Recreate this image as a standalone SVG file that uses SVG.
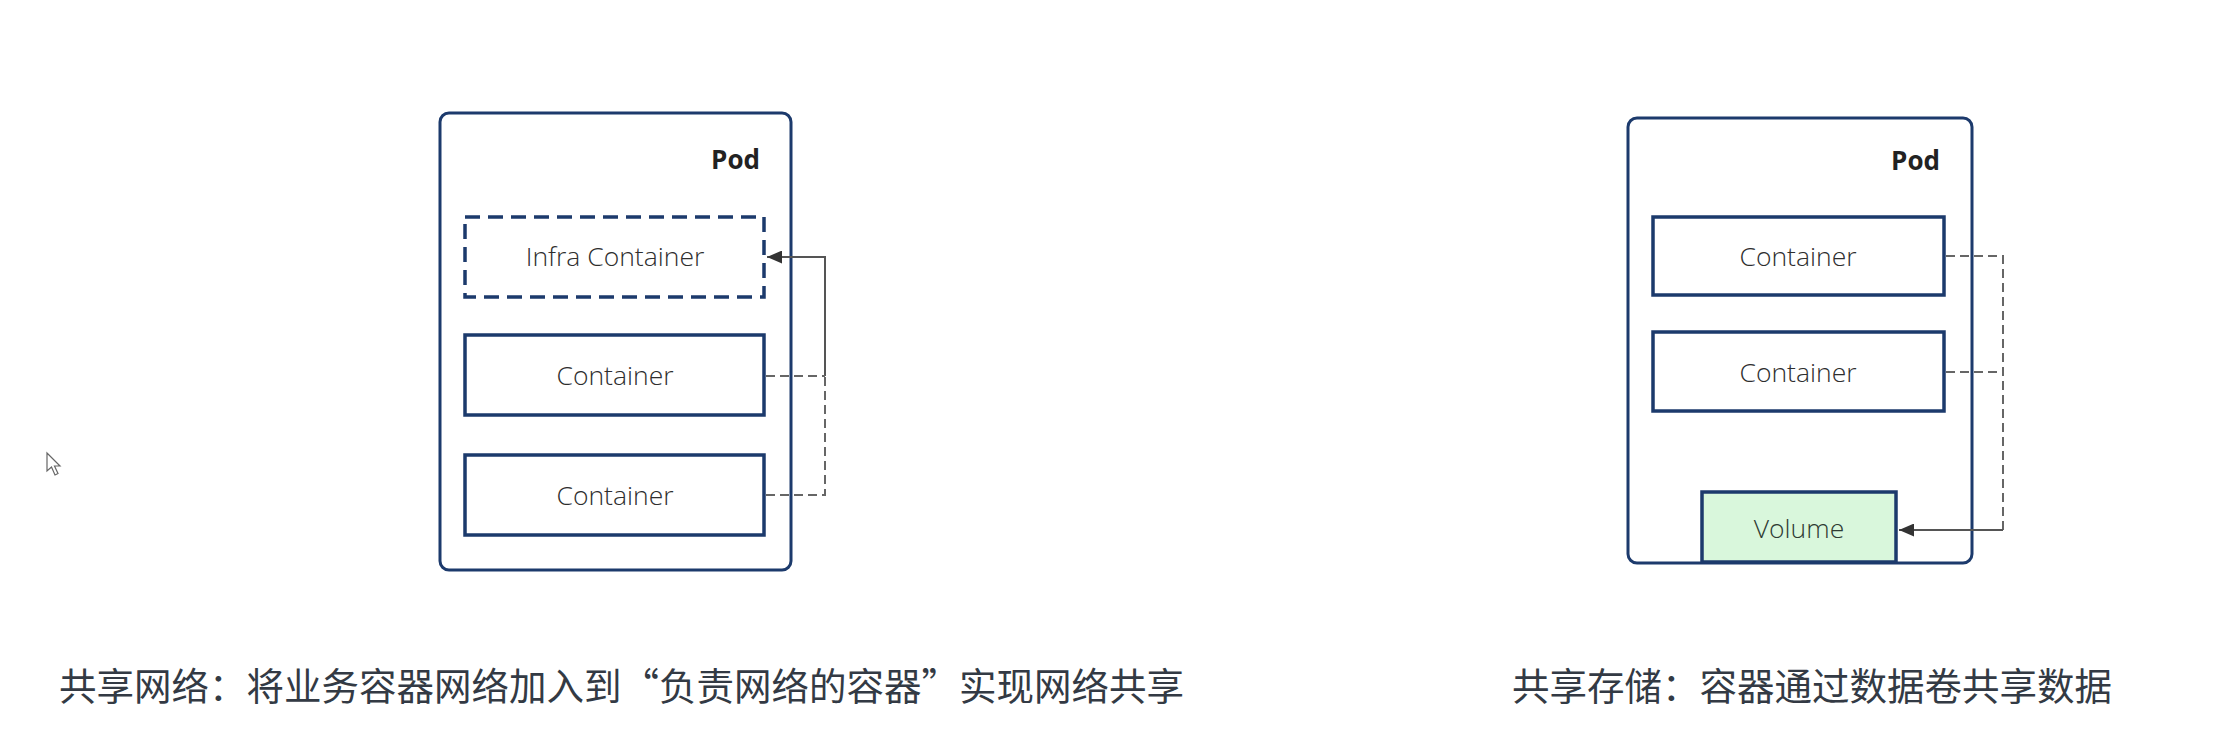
<svg xmlns="http://www.w3.org/2000/svg" width="2220" height="752" viewBox="0 0 2220 752">
<style>
.pod{fill:#fff;stroke:#1c3a6c;stroke-width:3}
.box{fill:#fff;stroke:#1c3a6c;stroke-width:3.5}
.infra{fill:#fff;stroke:#1c3a6c;stroke-width:3.5;stroke-dasharray:15 8}
.vol{fill:#d9f7dc;stroke:#1c3a6c;stroke-width:3.5}
.lbl{font-family:"Open Sans","Noto Sans","DejaVu Sans",sans-serif;font-weight:300;font-size:26.5px;fill:#2e2e2e;text-anchor:middle}
.podlbl{font-family:"Open Sans","Noto Sans","DejaVu Sans",sans-serif;font-weight:700;font-size:26px;fill:#222;text-anchor:end}
.cap{font-family:"Noto Sans CJK SC","Noto Sans",sans-serif;font-size:37.5px;fill:#333a44}
.solid{fill:none;stroke:#555;stroke-width:2}
.dash{fill:none;stroke:#666;stroke-width:2;stroke-dasharray:9 5}
</style>
<defs>
<marker id="arr" markerUnits="userSpaceOnUse" markerWidth="16" markerHeight="13" refX="15" refY="6.5" orient="auto">
<path d="M0,0 L15,6.5 L0,13 z" fill="#333"/>
</marker>
</defs>
<rect width="2220" height="752" fill="#fff"/>
<g id="pod1">
<rect class="pod" x="440" y="113" width="351" height="457" rx="9"/>
<text class="podlbl" x="760" y="169">Pod</text>
</g>
<g id="infra">
<rect class="infra" x="465" y="217" width="299" height="80"/>
<text class="lbl" x="615" y="266">Infra Container</text>
</g>
<g id="c1">
<rect class="box" x="465" y="335" width="299" height="80"/>
<text class="lbl" x="615" y="385">Container</text>
</g>
<g id="c2">
<rect class="box" x="465" y="455" width="299" height="80"/>
<text class="lbl" x="615" y="505">Container</text>
</g>
<g id="pod2">
<rect class="pod" x="1628" y="118" width="344" height="445" rx="9"/>
<text class="podlbl" x="1940" y="170">Pod</text>
</g>
<g id="c3">
<rect class="box" x="1653" y="217" width="291" height="78"/>
<text class="lbl" x="1798" y="266">Container</text>
</g>
<g id="c4">
<rect class="box" x="1653" y="332" width="291" height="79"/>
<text class="lbl" x="1798" y="382">Container</text>
</g>
<g id="volume">
<rect class="vol" x="1702" y="492" width="194" height="70"/>
<text class="lbl" x="1799" y="538" style="fill:#2f3b33">Volume</text>
</g>
<g id="connectors">
<path class="solid" d="M825,376 V257 H767" marker-end="url(#arr)"/>
<path class="dash" d="M766,376 H825"/>
<path class="dash" d="M766,495 H825 V376"/>
<path class="dash" d="M1946,256 H2003 V530"/>
<path class="dash" d="M1946,372 H2003"/>
<path class="solid" d="M2003,530 H1899" marker-end="url(#arr)"/>
</g>
<g id="captions">
<text class="cap" x="59" y="700">共享网络：将业务容器网络加入到“负责网络的容器”实现网络共享</text>
<text class="cap" x="1512" y="700">共享存储：容器通过数据卷共享数据</text>
</g>
<path d="M47,453 V471 L51.5,467 L55,475 L58,473.5 L54.5,466 L60,466 Z" fill="#fff" stroke="#666" stroke-width="1.2"/>
</svg>
